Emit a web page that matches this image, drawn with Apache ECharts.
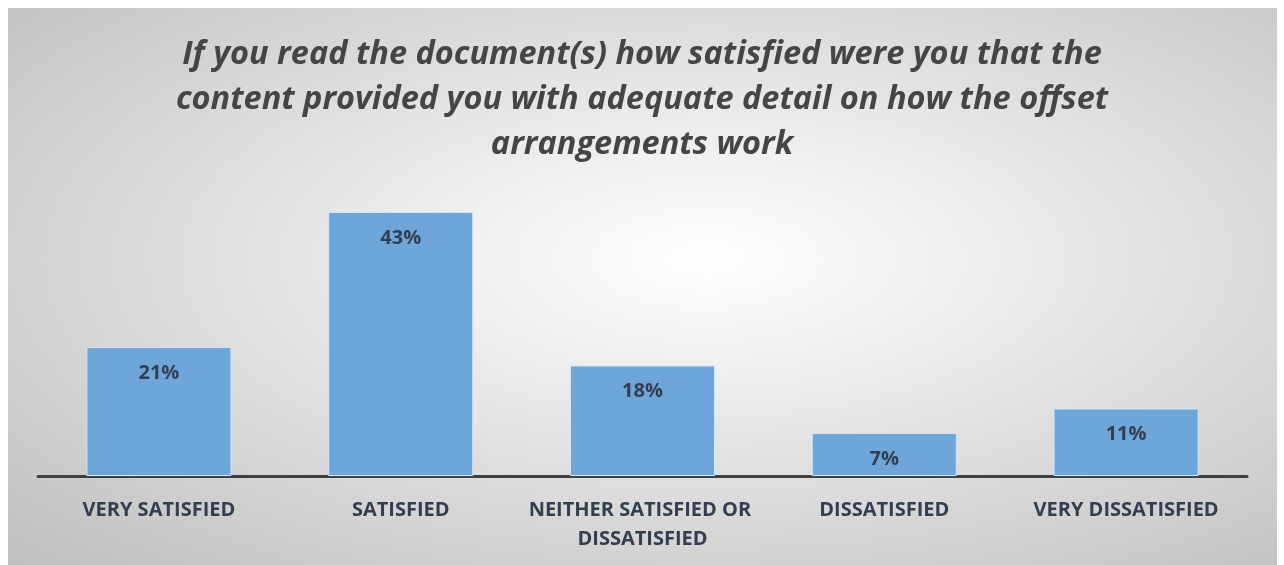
<!DOCTYPE html>
<html>
<head>
<meta charset="utf-8">
<script src="https://cdn.jsdelivr.net/npm/echarts@6/dist/echarts.min.js"></script>
<style>
html,body{margin:0;padding:0;background:#fff;}
#bg{position:absolute;left:8px;top:8px;width:1269px;height:557px;
  background:radial-gradient(ellipse farthest-corner at 55% 45%, #ffffff 0%, #f2f2f2 22%, #dcdcdc 55%, #bfbfbf 100%);}
#c{position:absolute;left:0;top:0;width:1284px;height:565px;}
</style>
</head>
<body>
<div id="bg"></div>
<div id="c"></div>
<script>
const titleText = "If you read the document(s) how satisfied were you that the\ncontent provided you with adequate detail on how the offset\narrangements work";
const categories = ["VERY SATISFIED", "SATISFIED", "NEITHER SATISFIED OR DISSATISFIED", "DISSATISFIED", "VERY DISSATISFIED"];
const values = [21, 43, 18, 7, 11];

const chart = echarts.init(document.getElementById('c'));
chart.setOption({
  animation: false,
  title: {
    text: titleText,
    left: 'center',
    top: 27,
    textStyle: {
      fontFamily: 'Open Sans',
      fontStyle: 'italic',
      fontWeight: 'bold',
      fontSize: 32.5,
      lineHeight: 45,
      color: '#454545'
    }
  },
  grid: {left: 38, right: 37, top: 169, bottom: 89},
  xAxis: {
    type: 'category',
    data: categories,
    axisLine: {lineStyle: {color: '#404040', width: 3}},
    axisTick: {show: false},
    axisLabel: {
      interval: 0,
      margin: 20,
      width: 236,
      overflow: 'break',
      fontFamily: 'Open Sans',
      fontWeight: 'bold',
      fontSize: 20,
      lineHeight: 29,
      color: '#333f50'
    }
  },
  yAxis: {
    type: 'value',
    min: 0,
    max: 50,
    show: false,
    splitLine: {show: false}
  },
  series: [{
    type: 'bar',
    data: values,
    barWidth: '60%',
    itemStyle: {color: '#6fa6d9', borderColor: '#d6e6f5', borderWidth: 1},
    label: {
      show: true,
      position: 'insideTop',
      distance: 16,
      formatter: p => p.value + '%',
      fontFamily: 'Open Sans',
      fontWeight: 'bold',
      fontSize: 20,
      color: '#333f50'
    }
  }]
});
</script>
</body>
</html>
